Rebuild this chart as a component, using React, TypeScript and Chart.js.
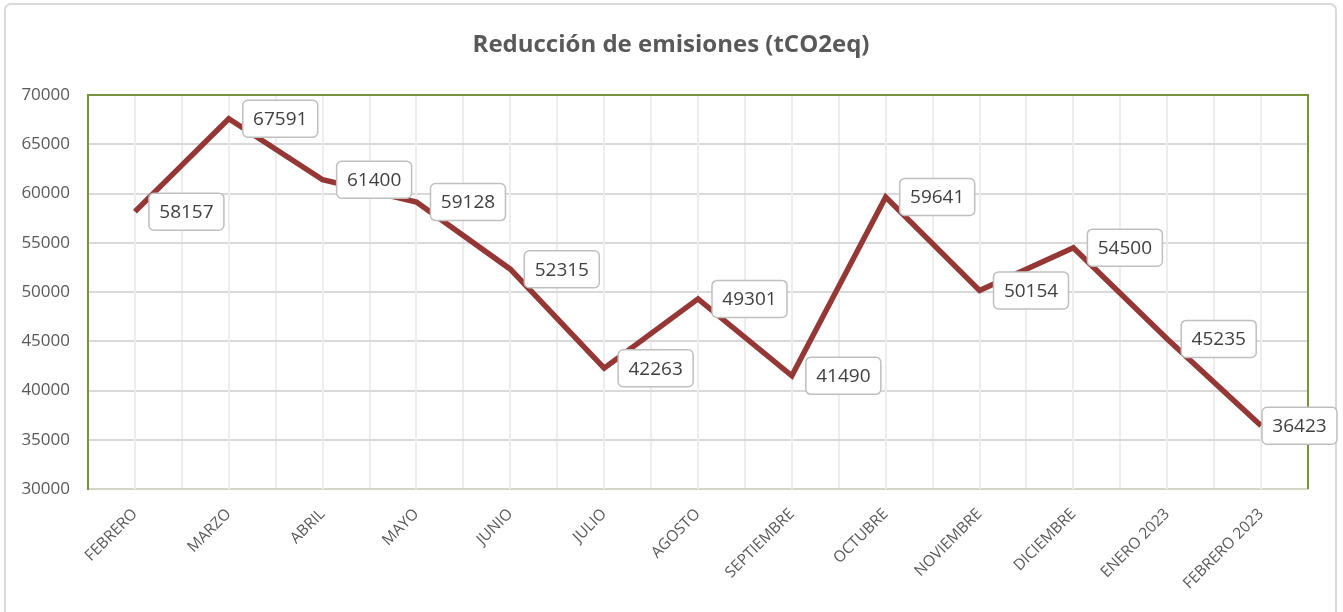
import React, { useEffect, useRef } from "react";
import { Chart, registerables } from "chart.js";

Chart.register(...registerables);

const TITLE = "Reducción de emisiones (tCO2eq)";
const MONTHS = [
  "FEBRERO",
  "MARZO",
  "ABRIL",
  "MAYO",
  "JUNIO",
  "JULIO",
  "AGOSTO",
  "SEPTIEMBRE",
  "OCTUBRE",
  "NOVIEMBRE",
  "DICIEMBRE",
  "ENERO 2023",
  "FEBRERO 2023",
];
const REDUCTION = [58157, 67591, 61400, 59128, 52315, 42263, 49301, 41490, 59641, 50154, 54500, 45235, 36423];
const Y_MIN = 30000;
const Y_MAX = 70000;
const Y_STEP = 5000;

const W = 1343;
const H = 612;
const FONT = "'Open Sans', 'DejaVu Sans', sans-serif";

const decorPlugin = {
  id: "decor",
  beforeDraw(chart: any) {
    const ctx = chart.ctx;
    ctx.save();
    ctx.fillStyle = "#ffffff";
    ctx.fillRect(0, 0, W, H);
    // outer frame
    ctx.strokeStyle = "#d9d9d9";
    ctx.lineWidth = 2;
    ctx.beginPath();
    (ctx as any).roundRect(5, 4, 1331, 640, 6);
    ctx.stroke();
    // title
    ctx.fillStyle = "#595959";
    ctx.font = `bold 24px ${FONT}`;
    ctx.textAlign = "center";
    ctx.textBaseline = "middle";
    ctx.fillText(TITLE, 671, 45);
    ctx.restore();
  },
  beforeDatasetsDraw(chart: any) {
    const ctx = chart.ctx;
    const xs = chart.scales.x;
    const a = chart.chartArea;
    ctx.save();
    ctx.strokeStyle = "#ededed";
    ctx.lineWidth = 2;
    for (let i = 0; i < MONTHS.length; i++) {
      const x = Math.round(xs.getPixelForValue(i));
      ctx.beginPath();
      ctx.moveTo(x, a.top);
      ctx.lineTo(x, a.bottom);
      ctx.stroke();
    }
    // top and right plot borders
    ctx.strokeStyle = "#77933c";
    ctx.lineWidth = 2;
    ctx.beginPath();
    ctx.moveTo(a.left, a.top);
    ctx.lineTo(a.right, a.top);
    ctx.lineTo(a.right, a.bottom);
    ctx.stroke();
    ctx.restore();
  },
  afterDatasetsDraw(chart: any) {
    const ctx = chart.ctx;
    const meta = chart.getDatasetMeta(0);
    const ds = chart.data.datasets[0].data as number[];
    ctx.save();
    ctx.font = `19px ${FONT}`;
    ctx.textAlign = "center";
    ctx.textBaseline = "middle";
    meta.data.forEach((pt: any, i: number) => {
      const bw = 75;
      const bh = 37;
      let left = pt.x + 14;
      if (left + bw > 1337) left = 1337 - bw;
      const top = pt.y - bh / 2;
      ctx.beginPath();
      (ctx as any).roundRect(left, top, bw, bh, 5);
      ctx.fillStyle = "#ffffff";
      ctx.fill();
      ctx.strokeStyle = "#bfbfbf";
      ctx.lineWidth = 1.5;
      ctx.stroke();
      ctx.fillStyle = "#404040";
      ctx.fillText(String(ds[i]), left + bw / 2, pt.y + 1);
    });
    ctx.restore();
  },
};

export default function App() {
  const ref = useRef<HTMLCanvasElement | null>(null);
  useEffect(() => {
    document.body.style.margin = "0";
    if (!ref.current) return;
    const chart = new Chart(ref.current, {
      type: "line",
      data: {
        labels: MONTHS,
        datasets: [
          {
            data: REDUCTION,
            borderColor: "#953735",
            borderWidth: 5.5,
            pointRadius: 0,
            tension: 0,
            borderJoinStyle: "miter",
            borderCapStyle: "butt",
            fill: false,
          },
        ],
      },
      options: {
        animation: false,
        responsive: false,
        devicePixelRatio: 1,
        layout: { padding: { top: 95, right: 35, left: 0, bottom: 0 } },
        plugins: {
          legend: { display: false },
          title: { display: false },
          tooltip: { enabled: false },
        },
        scales: {
          x: {
            type: "category",
            offset: true,
            grid: { offset: true, color: "#ededed", lineWidth: 2, drawTicks: false },
            border: { display: true, color: "#d3d6c4", width: 2 },
            ticks: {
              minRotation: 45,
              maxRotation: 45,
              padding: 16,
              color: "#595959",
              font: { family: FONT, size: 15.5 },
              autoSkip: false,
            },
            afterFit: (s: any) => {
              s.height = H - 489;
            },
          },
          y: {
            min: Y_MIN,
            max: Y_MAX,
            ticks: {
              stepSize: Y_STEP,
              padding: 18,
              color: "#595959",
              font: { family: FONT, size: 17 },
              callback: (v: any) => String(v),
            },
            grid: { color: "#d9d9d9", lineWidth: 2, drawTicks: false },
            border: { display: true, color: "#77933c", width: 2 },
            afterFit: (s: any) => {
              s.width = 88;
            },
          },
        },
      },
      plugins: [decorPlugin],
    } as any);
    return () => chart.destroy();
  }, []);
  return (
    <div style={{ position: "absolute", left: 0, top: 0, width: W, height: H }}>
      <canvas ref={ref} width={W} height={H} style={{ width: W, height: H, display: "block" }} />
    </div>
  );
}
